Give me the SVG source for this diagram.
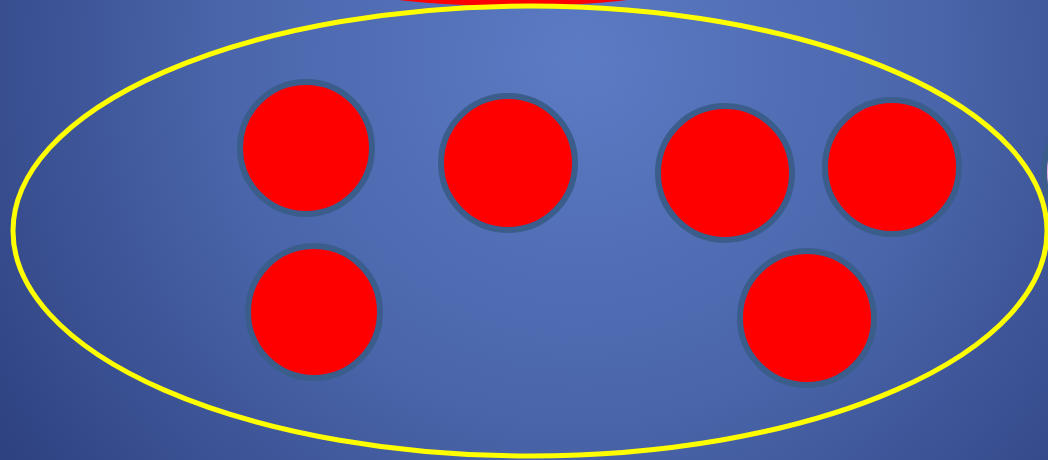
<svg xmlns="http://www.w3.org/2000/svg" width="1048" height="460" viewBox="0 0 1048 460">
<defs>
<radialGradient id="bg" gradientUnits="userSpaceOnUse" cx="580" cy="60" r="720">
<stop offset="0" stop-color="#5b7bc4"/>
<stop offset="0.5" stop-color="#4a65aa"/>
<stop offset="1" stop-color="#2c3f7e"/>
</radialGradient>
<style>
.dot{fill:#ff0000;stroke:#3a5d8c;stroke-width:6}
.ring{fill:none;stroke:#ffff00;stroke-width:5}
</style>
</defs>
<rect width="1048" height="460" fill="url(#bg)"/>
<g id="top-node"><ellipse cx="513" cy="-24" rx="190" ry="30" fill="#ff0000"/></g>
<g id="right-node"><circle cx="1114" cy="172" r="70" class="dot" style="fill:#eeb4e6"/></g>
<g id="group"><ellipse cx="530" cy="231" rx="517" ry="225" class="ring"/></g>
<g id="n1"><circle cx="306" cy="148" r="66" class="dot"/></g>
<g id="n2"><circle cx="508" cy="163" r="67" class="dot"/></g>
<g id="n3"><circle cx="725" cy="173" r="67" class="dot"/></g>
<g id="n4"><circle cx="892" cy="167" r="67" class="dot"/></g>
<g id="n5"><circle cx="314" cy="312" r="66" class="dot"/></g>
<g id="n6"><circle cx="807" cy="318" r="67" class="dot"/></g>
<g id="connectors"/>
</svg>
